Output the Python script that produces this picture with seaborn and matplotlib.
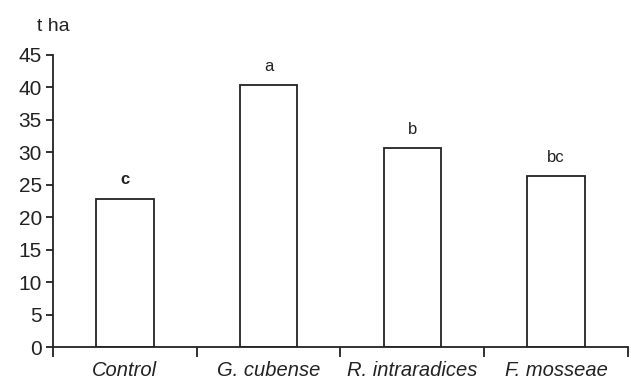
import matplotlib
matplotlib.use("Agg")
import matplotlib.pyplot as plt
import seaborn as sns
import pandas as pd

# --- data ---
treatments = ["Control", "G. cubense", "R. intraradices", "F. mosseae"]
yield_t_ha = [22.8, 40.3, 30.6, 26.3]
letters = ["c", "a", "b", "bc"]
letter_weights = ["bold", "normal", "normal", "normal"]
y_ticks = list(range(0, 50, 5))

df = pd.DataFrame({"treatment": treatments, "yield": yield_t_ha})

sns.set_theme(style="white")
plt.rcParams["font.family"] = ["Liberation Sans", "DejaVu Sans"]

fig = plt.figure(figsize=(6.31, 3.81), dpi=100)
ax = fig.add_axes([0.084, 0.089, 0.911, 0.767])

sns.barplot(data=df, x="treatment", y="yield", color="white",
            edgecolor="#222222", linewidth=1.3, width=0.4,
            errorbar=None, ax=ax)

# significance letters above the bars
for i, (v, lab, w) in enumerate(zip(yield_t_ha, letters, letter_weights)):
    ax.text(i, v + 1.8, lab, ha="center", va="bottom", fontsize=12,
            fontweight=w, color="#222222")

ax.set_xlim(-0.5, len(treatments) - 0.5)
ax.set_ylim(0, 45)
ax.set_yticks(y_ticks)
ax.set_yticklabels([str(t) for t in y_ticks], fontsize=15, color="#222222")

# category labels centred, ticks at the category boundaries
ax.set_xticks(range(len(treatments)))
ax.set_xticklabels(treatments, fontsize=14.5, style="italic", color="#222222")
ax.tick_params(axis="x", which="major", length=0, pad=10)
ax.set_xticks([i - 0.5 for i in range(len(treatments) + 1)], minor=True)
ax.tick_params(axis="x", which="minor", length=7, width=1.3,
               color="#222222", direction="out", bottom=True)
ax.tick_params(axis="y", length=5, width=1.3, color="#222222",
               direction="out", left=True, pad=3)

ax.set_xlabel("")
ax.set_ylabel("")
for side in ["top", "right"]:
    ax.spines[side].set_visible(False)
for side in ["left", "bottom"]:
    ax.spines[side].set_color("#222222")
    ax.spines[side].set_linewidth(1.3)

fig.text(0.059, 0.93, "t ha", fontsize=14, color="#222222", ha="left", va="center")

fig.savefig("out.png", dpi=100)
